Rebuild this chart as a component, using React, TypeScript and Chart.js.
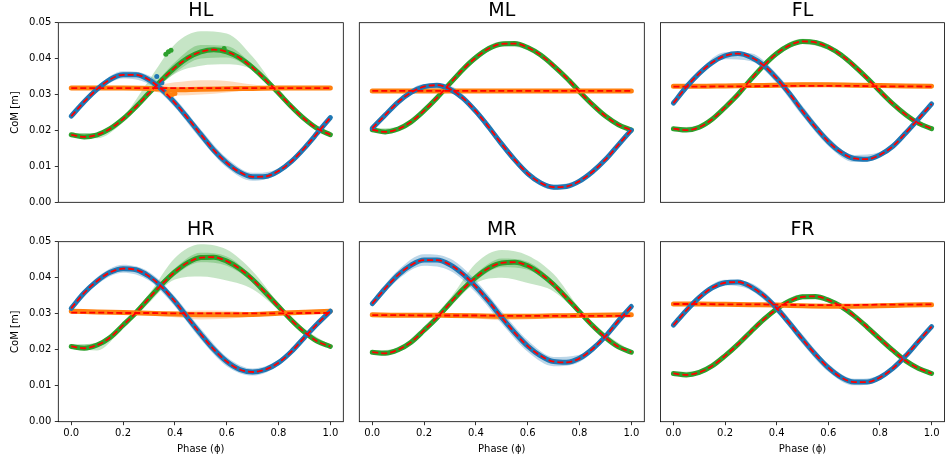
import { useEffect, useRef } from 'react';
import { Chart, registerables } from 'chart.js';

Chart.register(...registerables);

// ---- phase grids and axis ticks ----
const PHASE = [0, 0.05, 0.1, 0.15, 0.2, 0.25, 0.3, 0.35, 0.4, 0.45, 0.5, 0.55, 0.6, 0.65, 0.7, 0.75, 0.8, 0.85, 0.9, 0.95, 1];
const PHASE_COARSE = [0, 0.1, 0.2, 0.3, 0.4, 0.5, 0.6, 0.7, 0.8, 0.9, 1];
const X_TICKS = [0, 0.2, 0.4, 0.6, 0.8, 1.0];
const Y_TICKS = [0, 0.01, 0.02, 0.03, 0.04, 0.05];

// ---- HL ----
const HL_BLUE = [0.0240, 0.0280, 0.0315, 0.0342, 0.0355, 0.0355, 0.0341, 0.0314, 0.0277, 0.0234, 0.0189, 0.0145, 0.0110, 0.0084, 0.0071, 0.0072, 0.0087, 0.0114, 0.0151, 0.0193, 0.0236];
const HL_BLUE_SD = [0.0006, 0.0008, 0.0010, 0.0012, 0.0013, 0.0014, 0.0013, 0.0011, 0.0008, 0.0007, 0.0006];
const HL_BLUE_OUT_X = [0.33, 0.35];
const HL_BLUE_OUT_Y = [0.0350, 0.0333];
const HL_ORANGE = [0.0318, 0.0318, 0.0318, 0.0317, 0.0313, 0.0315, 0.0316, 0.0317, 0.0318, 0.0318, 0.0318];
const HL_ORANGE_FIT = [0.0318, 0.0318, 0.0318, 0.0318, 0.0318, 0.0318, 0.0318, 0.0318, 0.0318, 0.0318, 0.0318];
const HL_ORANGE_SD = [0.0003, 0.0003, 0.0003, 0.0003, 0.0003, 0.0003, 0.0003, 0.0003, 0.0003, 0.0003, 0.0003];
const HL_ORANGE_LO = [0.0315, 0.0315, 0.0315, 0.0311, 0.0297, 0.0300, 0.0306, 0.0312, 0.0315, 0.0315, 0.0315];
const HL_ORANGE_HI = [0.0321, 0.0321, 0.0321, 0.0323, 0.0334, 0.0340, 0.0338, 0.0328, 0.0321, 0.0321, 0.0321];
const HL_ORANGE_OUT_X = [0.37, 0.38, 0.39, 0.40];
const HL_ORANGE_OUT_Y = [0.0303, 0.0300, 0.0300, 0.0303];
const HL_GREEN = [0.0188, 0.0182, 0.0188, 0.0205, 0.0232, 0.0266, 0.0304, 0.0341, 0.0375, 0.0402, 0.0419, 0.0425, 0.0419, 0.0402, 0.0375, 0.0341, 0.0304, 0.0266, 0.0232, 0.0205, 0.0188];
const HL_GREEN_SD = [0.0004, 0.0004, 0.0005, 0.0006, 0.0015, 0.0019, 0.0016, 0.0008, 0.0004, 0.0004, 0.0004];
const HL_GREEN_LO = [0.0183, 0.0178, 0.0222, 0.0296, 0.0358, 0.0380, 0.0384, 0.0368, 0.0299, 0.0228, 0.0184];
const HL_GREEN_HI = [0.0193, 0.0193, 0.0238, 0.0340, 0.0440, 0.0476, 0.0470, 0.0405, 0.0309, 0.0236, 0.0192];
const HL_GREEN_OUT_X = [0.365, 0.375, 0.385, 0.59];
const HL_GREEN_OUT_Y = [0.0412, 0.0419, 0.0423, 0.0428];

// ---- ML ----
const ML_BLUE = [0.0206, 0.0243, 0.0279, 0.0306, 0.0322, 0.0326, 0.0315, 0.0290, 0.0253, 0.0209, 0.0162, 0.0118, 0.0080, 0.0054, 0.0042, 0.0044, 0.0059, 0.0085, 0.0119, 0.0160, 0.0201];
const ML_BLUE_SD = [0.0005, 0.0006, 0.0007, 0.0009, 0.0010, 0.0010, 0.0009, 0.0007, 0.0006, 0.0005, 0.0005];
const ML_ORANGE = [0.0310, 0.0310, 0.0310, 0.0310, 0.0310, 0.0310, 0.0310, 0.0310, 0.0310, 0.0310, 0.0310];
const ML_ORANGE_FIT = [0.0310, 0.0310, 0.0310, 0.0310, 0.0310, 0.0310, 0.0310, 0.0310, 0.0310, 0.0310, 0.0310];
const ML_ORANGE_SD = [0.0003, 0.0003, 0.0003, 0.0003, 0.0003, 0.0003, 0.0003, 0.0003, 0.0003, 0.0003, 0.0003];
const ML_GREEN = [0.0202, 0.0196, 0.0204, 0.0224, 0.0255, 0.0291, 0.0331, 0.0370, 0.0403, 0.0428, 0.0441, 0.0442, 0.0431, 0.0410, 0.0380, 0.0346, 0.0308, 0.0272, 0.0240, 0.0216, 0.0201];
const ML_GREEN_SD = [0.0004, 0.0005, 0.0007, 0.0009, 0.0009, 0.0007, 0.0006, 0.0005, 0.0005, 0.0004, 0.0004];

// ---- FL ----
const FL_BLUE = [0.0276, 0.0321, 0.0359, 0.0389, 0.0408, 0.0414, 0.0404, 0.0381, 0.0345, 0.0302, 0.0254, 0.0209, 0.0169, 0.0139, 0.0122, 0.0120, 0.0132, 0.0156, 0.0193, 0.0233, 0.0274];
const FL_BLUE_SD = [0.0006, 0.0008, 0.0010, 0.0011, 0.0013, 0.0014, 0.0012, 0.0010, 0.0008, 0.0008, 0.0008];
const FL_ORANGE = [0.0323, 0.0323, 0.0324, 0.0325, 0.0326, 0.0327, 0.0327, 0.0326, 0.0325, 0.0324, 0.0323];
const FL_ORANGE_FIT = [0.0322, 0.0322, 0.0323, 0.0323, 0.0324, 0.0324, 0.0324, 0.0324, 0.0323, 0.0323, 0.0322];
const FL_ORANGE_SD = [0.0004, 0.0004, 0.0005, 0.0006, 0.0007, 0.0007, 0.0006, 0.0005, 0.0005, 0.0004, 0.0004];
const FL_GREEN = [0.0205, 0.0201, 0.0209, 0.0231, 0.0264, 0.0300, 0.0342, 0.0381, 0.0414, 0.0437, 0.0448, 0.0445, 0.0432, 0.0410, 0.0380, 0.0346, 0.0309, 0.0274, 0.0244, 0.0220, 0.0205];
const FL_GREEN_SD = [0.0004, 0.0005, 0.0006, 0.0008, 0.0008, 0.0007, 0.0008, 0.0007, 0.0005, 0.0004, 0.0004];

// ---- HR ----
const HR_BLUE = [0.0315, 0.0358, 0.0391, 0.0415, 0.0425, 0.0422, 0.0404, 0.0374, 0.0334, 0.0288, 0.0243, 0.0201, 0.0167, 0.0145, 0.0138, 0.0145, 0.0164, 0.0195, 0.0234, 0.0272, 0.0307];
const HR_BLUE_SD = [0.0008, 0.0010, 0.0011, 0.0012, 0.0014, 0.0015, 0.0013, 0.0010, 0.0008, 0.0007, 0.0007];
const HR_ORANGE = [0.0307, 0.0305, 0.0303, 0.0301, 0.0299, 0.0297, 0.0297, 0.0298, 0.0301, 0.0304, 0.0307];
const HR_ORANGE_FIT = [0.0303, 0.0303, 0.0302, 0.0302, 0.0301, 0.0301, 0.0301, 0.0301, 0.0301, 0.0302, 0.0302];
const HR_ORANGE_SD = [0.0003, 0.0003, 0.0003, 0.0003, 0.0003, 0.0003, 0.0003, 0.0003, 0.0003, 0.0003, 0.0003];
const HR_ORANGE_LO = [0.0302, 0.0300, 0.0298, 0.0295, 0.0290, 0.0284, 0.0286, 0.0292, 0.0297, 0.0300, 0.0302];
const HR_ORANGE_HI = [0.0311, 0.0310, 0.0308, 0.0306, 0.0307, 0.0309, 0.0308, 0.0304, 0.0307, 0.0310, 0.0312];
const HR_GREEN = [0.0209, 0.0204, 0.0213, 0.0234, 0.0268, 0.0303, 0.0343, 0.0382, 0.0416, 0.0442, 0.0456, 0.0457, 0.0446, 0.0425, 0.0395, 0.0358, 0.0320, 0.0282, 0.0249, 0.0223, 0.0209];
const HR_GREEN_SD = [0.0005, 0.0005, 0.0006, 0.0008, 0.0010, 0.0013, 0.0013, 0.0008, 0.0006, 0.0005, 0.0005];
const HR_GREEN_LO = [0.0204, 0.0198, 0.0260, 0.0330, 0.0395, 0.0403, 0.0392, 0.0368, 0.0310, 0.0240, 0.0204];
const HR_GREEN_HI = [0.0214, 0.0220, 0.0278, 0.0355, 0.0455, 0.0493, 0.0478, 0.0418, 0.0330, 0.0258, 0.0213];

// ---- MR ----
const MR_BLUE = [0.0328, 0.0370, 0.0408, 0.0435, 0.0449, 0.0449, 0.0436, 0.0410, 0.0375, 0.0334, 0.0289, 0.0247, 0.0210, 0.0183, 0.0167, 0.0165, 0.0176, 0.0202, 0.0237, 0.0280, 0.0320];
const MR_BLUE_SD = [0.0010, 0.0013, 0.0016, 0.0017, 0.0017, 0.0017, 0.0016, 0.0013, 0.0010, 0.0009, 0.0009];
const MR_ORANGE = [0.0297, 0.0296, 0.0296, 0.0295, 0.0294, 0.0293, 0.0293, 0.0294, 0.0295, 0.0296, 0.0297];
const MR_ORANGE_FIT = [0.0296, 0.0296, 0.0295, 0.0295, 0.0295, 0.0294, 0.0294, 0.0294, 0.0294, 0.0294, 0.0294];
const MR_ORANGE_SD = [0.0003, 0.0003, 0.0003, 0.0003, 0.0003, 0.0003, 0.0003, 0.0003, 0.0003, 0.0003, 0.0003];
const MR_ORANGE_LO = [0.0293, 0.0292, 0.0292, 0.0291, 0.0287, 0.0282, 0.0284, 0.0289, 0.0292, 0.0291, 0.0293];
const MR_ORANGE_HI = [0.0301, 0.0300, 0.0300, 0.0299, 0.0300, 0.0300, 0.0300, 0.0299, 0.0302, 0.0304, 0.0303];
const MR_GREEN = [0.0193, 0.0190, 0.0200, 0.0221, 0.0254, 0.0289, 0.0329, 0.0368, 0.0401, 0.0427, 0.0441, 0.0443, 0.0433, 0.0411, 0.0381, 0.0344, 0.0305, 0.0267, 0.0234, 0.0208, 0.0193];
const MR_GREEN_SD = [0.0004, 0.0005, 0.0006, 0.0008, 0.0010, 0.0012, 0.0011, 0.0008, 0.0006, 0.0005, 0.0004];
const MR_GREEN_LO = [0.0189, 0.0194, 0.0245, 0.0318, 0.0385, 0.0400, 0.0385, 0.0362, 0.0298, 0.0228, 0.0189];
const MR_GREEN_HI = [0.0197, 0.0206, 0.0265, 0.0342, 0.0440, 0.0477, 0.0462, 0.0410, 0.0315, 0.0245, 0.0197];

// ---- FR ----
const FR_BLUE = [0.0268, 0.0309, 0.0345, 0.0372, 0.0386, 0.0388, 0.0375, 0.0350, 0.0315, 0.0273, 0.0229, 0.0187, 0.0150, 0.0123, 0.0110, 0.0110, 0.0123, 0.0148, 0.0183, 0.0224, 0.0264];
const FR_BLUE_SD = [0.0005, 0.0007, 0.0008, 0.0010, 0.0012, 0.0013, 0.0011, 0.0009, 0.0007, 0.0006, 0.0006];
const FR_ORANGE = [0.0327, 0.0327, 0.0326, 0.0325, 0.0324, 0.0322, 0.0321, 0.0321, 0.0322, 0.0324, 0.0325];
const FR_ORANGE_FIT = [0.0327, 0.0327, 0.0326, 0.0326, 0.0325, 0.0324, 0.0324, 0.0324, 0.0325, 0.0325, 0.0326];
const FR_ORANGE_SD = [0.0004, 0.0004, 0.0004, 0.0004, 0.0004, 0.0004, 0.0004, 0.0004, 0.0004, 0.0004, 0.0004];
const FR_GREEN = [0.0134, 0.0130, 0.0137, 0.0155, 0.0183, 0.0215, 0.0250, 0.0284, 0.0313, 0.0335, 0.0347, 0.0348, 0.0338, 0.0320, 0.0294, 0.0263, 0.0230, 0.0198, 0.0169, 0.0148, 0.0134];
const FR_GREEN_SD = [0.0004, 0.0005, 0.0007, 0.0008, 0.0008, 0.0007, 0.0006, 0.0005, 0.0004, 0.0004, 0.0004];

type Series = {
  mean: number[];
  sd: number[];
  fit?: number[];
  lo?: number[];
  hi?: number[];
  outX?: number[];
  outY?: number[];
};
type Panel = { title: string; blue: Series; orange: Series; green: Series };

const PANELS: Panel[] = [
  {
    title: 'HL',
    blue: { mean: HL_BLUE, sd: HL_BLUE_SD, outX: HL_BLUE_OUT_X, outY: HL_BLUE_OUT_Y },
    orange: { mean: HL_ORANGE, sd: HL_ORANGE_SD, fit: HL_ORANGE_FIT, lo: HL_ORANGE_LO, hi: HL_ORANGE_HI, outX: HL_ORANGE_OUT_X, outY: HL_ORANGE_OUT_Y },
    green: { mean: HL_GREEN, sd: HL_GREEN_SD, lo: HL_GREEN_LO, hi: HL_GREEN_HI, outX: HL_GREEN_OUT_X, outY: HL_GREEN_OUT_Y },
  },
  {
    title: 'ML',
    blue: { mean: ML_BLUE, sd: ML_BLUE_SD },
    orange: { mean: ML_ORANGE, sd: ML_ORANGE_SD, fit: ML_ORANGE_FIT },
    green: { mean: ML_GREEN, sd: ML_GREEN_SD },
  },
  {
    title: 'FL',
    blue: { mean: FL_BLUE, sd: FL_BLUE_SD },
    orange: { mean: FL_ORANGE, sd: FL_ORANGE_SD, fit: FL_ORANGE_FIT },
    green: { mean: FL_GREEN, sd: FL_GREEN_SD },
  },
  {
    title: 'HR',
    blue: { mean: HR_BLUE, sd: HR_BLUE_SD },
    orange: { mean: HR_ORANGE, sd: HR_ORANGE_SD, fit: HR_ORANGE_FIT, lo: HR_ORANGE_LO, hi: HR_ORANGE_HI },
    green: { mean: HR_GREEN, sd: HR_GREEN_SD, lo: HR_GREEN_LO, hi: HR_GREEN_HI },
  },
  {
    title: 'MR',
    blue: { mean: MR_BLUE, sd: MR_BLUE_SD },
    orange: { mean: MR_ORANGE, sd: MR_ORANGE_SD, fit: MR_ORANGE_FIT, lo: MR_ORANGE_LO, hi: MR_ORANGE_HI },
    green: { mean: MR_GREEN, sd: MR_GREEN_SD, lo: MR_GREEN_LO, hi: MR_GREEN_HI },
  },
  {
    title: 'FR',
    blue: { mean: FR_BLUE, sd: FR_BLUE_SD },
    orange: { mean: FR_ORANGE, sd: FR_ORANGE_SD, fit: FR_ORANGE_FIT },
    green: { mean: FR_GREEN, sd: FR_GREEN_SD },
  },
];

// ---- look & layout ----
const W = 945;
const H = 462;
const FONT = 'DejaVu Sans';
const COLORS = {
  blue: [31, 119, 180],
  orange: [255, 127, 14],
  green: [44, 160, 44],
};
const FIT_COLOR = '#ff0000';
const COL_LEFT = [58.3, 359.3, 660.5];
const COL_RIGHT = [343.3, 644.3, 944.5];
const ROW_TOP = [22.7, 241.7];
const ROW_BOTTOM = [202.3, 421.7];
const TITLE_SIZE = 19;
const TICK_SIZE = 10;

const rgba = (c: number[], a: number) => `rgba(${c[0]},${c[1]},${c[2]},${a})`;
const pts = (xs: number[], ys: number[]) => xs.map((x, i) => ({ x, y: ys[i] }));
const phasesFor = (arr: number[]) => (arr.length === PHASE.length ? PHASE : PHASE_COARSE);

function seriesDatasets(s: Series, c: number[]) {
  const out: any[] = [];
  const phases = phasesFor(s.mean);
  const step = (s.mean.length - 1) / (PHASE_COARSE.length - 1);
  const meanCoarse = PHASE_COARSE.map((_, i) => s.mean[i * step]);
  const base = {
    pointRadius: 0,
    cubicInterpolationMode: 'monotone',
  };
  if (s.lo && s.hi) {
    out.push({ ...base, data: pts(PHASE_COARSE, s.lo), borderWidth: 0, fill: false, order: 4 });
    out.push({ ...base, data: pts(PHASE_COARSE, s.hi), borderWidth: 0, fill: '-1', backgroundColor: rgba(c, 0.27), order: 4 });
  }
  out.push({ ...base, data: pts(PHASE_COARSE, meanCoarse.map((m, i) => m - s.sd[i])), borderWidth: 0, fill: false, order: 3 });
  out.push({ ...base, data: pts(PHASE_COARSE, meanCoarse.map((m, i) => m + s.sd[i])), borderWidth: 0, fill: '-1', backgroundColor: rgba(c, 0.3), order: 3 });
  out.push({ ...base, data: pts(phases, s.mean), borderColor: rgba(c, 1), borderWidth: 5, borderCapStyle: 'round', fill: false, order: 2 });
  if (s.outX && s.outY) {
    out.push({ data: pts(s.outX, s.outY), showLine: false, pointRadius: 2.5, pointBorderWidth: 0, pointBackgroundColor: rgba(c, 1), order: 1 });
  }
  const fit = s.fit ?? s.mean;
  out.push({ ...base, data: pts(phasesFor(fit), fit), borderColor: FIT_COLOR, borderWidth: 1.8, borderDash: [6, 3], fill: false, order: 0 });
  return out;
}

const framePlugin = {
  id: 'axesFrame',
  afterDatasetsDraw(chart: any) {
    const { ctx, chartArea: a } = chart;
    ctx.save();
    ctx.strokeStyle = '#000';
    ctx.lineWidth = 0.8;
    ctx.strokeRect(a.left, a.top, a.right - a.left, a.bottom - a.top);
    ctx.restore();
  },
};

function buildConfig(p: Panel, idx: number): any {
  const row = Math.floor(idx / 3);
  const col = idx % 3;
  const showY = col === 0;
  const showX = row === 1;
  const yW = showY ? 50 : 8;
  const xH = showX ? 34 : 8;
  const titleH = TITLE_SIZE * 1.2;

  const datasets = [
    ...seriesDatasets(p.blue, COLORS.blue),
    ...seriesDatasets(p.orange, COLORS.orange),
    ...seriesDatasets(p.green, COLORS.green),
  ];

  return {
    type: 'line',
    data: { datasets },
    options: {
      animation: false,
      responsive: false,
      events: [],
      layout: {
        padding: {
          left: COL_LEFT[col] - yW,
          right: W - COL_RIGHT[col],
          top: ROW_TOP[row] - titleH,
          bottom: H - ROW_BOTTOM[row] - xH,
        },
      },
      plugins: {
        legend: { display: false },
        tooltip: { enabled: false },
        title: {
          display: true,
          text: p.title,
          fullSize: false,
          color: '#000',
          font: { family: FONT, size: TITLE_SIZE, weight: 'normal' },
          padding: { top: 0, bottom: 0 },
        },
      },
      scales: {
        x: {
          type: 'linear',
          min: -0.05,
          max: 1.05,
          afterBuildTicks: (s: any) => {
            s.ticks = X_TICKS.map((v) => ({ value: v }));
          },
          afterFit: (s: any) => {
            s.height = xH;
          },
          ticks: {
            display: showX,
            color: '#000',
            padding: 2,
            font: { family: FONT, size: TICK_SIZE },
            callback: (v: any) => Number(v).toFixed(1),
          },
          grid: { display: showX, drawOnChartArea: false, drawTicks: true, tickLength: 3.5, tickColor: '#000', tickWidth: 0.8 },
          border: { display: false },
          title: {
            display: showX,
            text: 'Phase (ϕ)',
            color: '#000',
            font: { family: FONT, size: TICK_SIZE },
            padding: { top: 0, bottom: 0 },
          },
        },
        y: {
          type: 'linear',
          min: 0,
          max: 0.05,
          afterBuildTicks: (s: any) => {
            s.ticks = Y_TICKS.map((v) => ({ value: v }));
          },
          afterFit: (s: any) => {
            s.width = yW;
          },
          ticks: {
            display: showY,
            color: '#000',
            padding: 3.5,
            font: { family: FONT, size: TICK_SIZE },
            callback: (v: any) => Number(v).toFixed(2),
          },
          grid: { display: showY, drawOnChartArea: false, drawTicks: true, tickLength: 3.5, tickColor: '#000', tickWidth: 0.8 },
          border: { display: false },
          title: {
            display: showY,
            text: 'CoM [m]',
            color: '#000',
            font: { family: FONT, size: TICK_SIZE },
            padding: { top: 0.7, bottom: 0 },
          },
        },
      },
    },
    plugins: [framePlugin],
  };
}

export default function App() {
  const canvases = useRef<(HTMLCanvasElement | null)[]>([]);

  useEffect(() => {
    const charts = PANELS.map((p, i) => new Chart(canvases.current[i] as HTMLCanvasElement, buildConfig(p, i)));
    return () => {
      charts.forEach((c) => c.destroy());
    };
  }, []);

  return (
    <div style={{ position: 'absolute', left: 0, top: 0, width: W, height: H, background: '#fff' }}>
      {PANELS.map((p, i) => (
        <canvas
          key={p.title}
          ref={(el) => {
            canvases.current[i] = el;
          }}
          width={W}
          height={H}
          style={{ position: 'absolute', left: 0, top: 0, width: W, height: H }}
        />
      ))}
    </div>
  );
}
